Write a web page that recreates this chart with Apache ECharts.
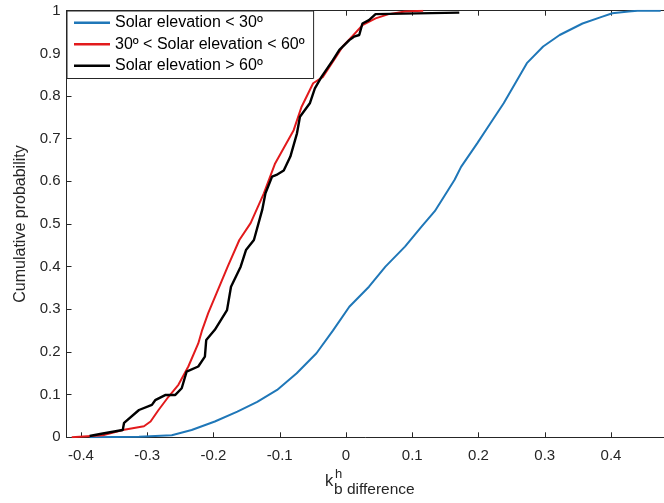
<!DOCTYPE html>
<html>
<head>
<meta charset="utf-8">
<script src="https://cdn.jsdelivr.net/npm/echarts@6/dist/echarts.min.js"></script>
<style>
html,body{margin:0;padding:0;background:#fff;}
#c{width:664px;height:503px;}
</style>
</head>
<body>
<div id="c"></div>
<script>
// ---- data ----
const xTicks = [-0.4, -0.3, -0.2, -0.1, 0, 0.1, 0.2, 0.3, 0.4];
const yTicks = [0, 0.1, 0.2, 0.3, 0.4, 0.5, 0.6, 0.7, 0.8, 0.9, 1];
const seriesNames = ['Solar elevation < 30º', '30º < Solar elevation < 60º', 'Solar elevation > 60º'];

const blueX = [-0.387, -0.3125, -0.263, -0.233, -0.198, -0.164, -0.134, -0.104, -0.0744, -0.0446, -0.0198, 0.005, 0.0347, 0.0595, 0.089, 0.114, 0.134, 0.149, 0.1637, 0.1737, 0.198, 0.218, 0.238, 0.2555, 0.273, 0.2976, 0.3225, 0.357, 0.387, 0.402, 0.4266, 0.44, 0.475];
const blueY = [0, 0.001, 0.005, 0.017, 0.037, 0.06, 0.083, 0.111, 0.15, 0.197, 0.25, 0.306, 0.353, 0.40, 0.447, 0.494, 0.53, 0.567, 0.603, 0.634, 0.689, 0.736, 0.783, 0.83, 0.877, 0.916, 0.943, 0.97, 0.986, 0.994, 0.998, 1.0, 1.0];

const redX = [-0.414, -0.367, -0.337, -0.305, -0.295, -0.283, -0.268, -0.253, -0.238, -0.223, -0.217, -0.208, -0.1786, -0.161, -0.144, -0.124, -0.107, -0.079, -0.067, -0.0496, -0.0347, -0.0149, -0.005, 0.01, 0.0248, 0.0446, 0.0645, 0.089, 0.1165];
const redY = [0, 0.005, 0.017, 0.026, 0.037, 0.064, 0.095, 0.123, 0.166, 0.22, 0.252, 0.291, 0.40, 0.4625, 0.502, 0.572, 0.642, 0.72, 0.775, 0.83, 0.845, 0.892, 0.916, 0.941, 0.966, 0.982, 0.992, 0.998, 1.0];

const blackX = [-0.387, -0.367, -0.337, -0.335, -0.3125, -0.293, -0.288, -0.273, -0.258, -0.248, -0.2406, -0.223, -0.213, -0.211, -0.198, -0.1796, -0.1736, -0.159, -0.151, -0.139, -0.1265, -0.1216, -0.1116, -0.105, -0.094, -0.084, -0.074, -0.0695, -0.0546, -0.047, -0.037, -0.0198, -0.01, 0.005, 0.012, 0.02, 0.0248, 0.0347, 0.0446, 0.047, 0.171];
const blackY = [0.003, 0.009, 0.017, 0.034, 0.064, 0.076, 0.087, 0.099, 0.099, 0.115, 0.154, 0.166, 0.189, 0.228, 0.252, 0.298, 0.353, 0.40, 0.439, 0.4625, 0.533, 0.572, 0.611, 0.615, 0.6255, 0.658, 0.7126, 0.7515, 0.783, 0.818, 0.845, 0.884, 0.908, 0.931, 0.939, 0.943, 0.97, 0.978, 0.992, 0.9955, 0.9955];

const xMin = -0.4219, xMax = 0.48;

function pairs(xs, ys){ return xs.map((x,i)=>[x, ys[i]]); }

const axisColor = '#262626';
const fam = 'Liberation Sans, Arial, sans-serif';
const chart = echarts.init(document.getElementById('c'), null, {renderer:'canvas'});
chart.setOption({
  animation:false,
  backgroundColor:'#fff',
  grid:{left:66.5, top:10.7, width:(xMax - xMin)*672, height:426.6, containLabel:false},
  legend:{
    orient:'vertical', left:67, top:11,
    padding:[1,9,2,7], itemGap:0, itemWidth:36, itemHeight:2.5, icon:'rect',
    textStyle:{fontSize:16, lineHeight:21.5, color:'#000', fontFamily:fam},
    borderColor:axisColor, borderWidth:1, backgroundColor:'#fff',
    data:seriesNames
  },
  xAxis:[{
    type:'value', min:xMin, max:xMax, position:'bottom',
    axisLine:{show:true, onZero:false, lineStyle:{color:axisColor, width:1}},
    axisTick:{show:true, inside:true, length:5, customValues:xTicks, lineStyle:{color:axisColor}},
    axisLabel:{show:true, customValues:xTicks, margin:11, fontSize:15, color:axisColor, fontFamily:fam,
      formatter:v=>String(Math.round(v*10)/10)},
    splitLine:{show:false}
  },{
    type:'value', min:xMin, max:xMax, position:'top',
    axisLine:{show:true, onZero:false, lineStyle:{color:axisColor, width:1}},
    axisTick:{show:true, inside:true, length:5, customValues:xTicks, lineStyle:{color:axisColor}},
    axisLabel:{show:false},
    splitLine:{show:false}
  }],
  yAxis:{
    type:'value', min:0, max:1, interval:0.1, position:'left',
    name:'Cumulative probability', nameLocation:'middle', nameGap:33,
    nameTextStyle:{fontSize:16, color:axisColor, fontFamily:fam},
    axisLine:{show:true, onZero:false, lineStyle:{color:axisColor, width:1}},
    axisTick:{show:true, inside:true, length:5, lineStyle:{color:axisColor}},
    axisLabel:{margin:6, fontSize:15, color:axisColor, fontFamily:fam,
      formatter:v=>String(Math.round(v*10)/10)},
    splitLine:{show:false}
  },
  graphic:[
    {type:'text', x:325, y:481, style:{text:'k', fontSize:16.5, fill:axisColor, verticalAlign:'middle', align:'left', fontFamily:fam}},
    {type:'text', x:335, y:474, style:{text:'h', fontSize:13, fill:axisColor, verticalAlign:'middle', align:'left', fontFamily:fam}},
    {type:'text', x:334, y:489.5, style:{text:'b difference', fontSize:15.5, fill:axisColor, verticalAlign:'middle', align:'left', fontFamily:fam}}
  ],
  series:[
    {name:seriesNames[0], type:'line', data:pairs(blueX, blueY), showSymbol:false, symbol:'none', color:'#1f77b8', lineStyle:{width:2, color:'#1f77b8'}, z:2},
    {name:seriesNames[1], type:'line', data:pairs(redX, redY), showSymbol:false, symbol:'none', color:'#e21a1c', lineStyle:{width:2, color:'#e21a1c'}, z:3},
    {name:seriesNames[2], type:'line', data:pairs(blackX, blackY), showSymbol:false, symbol:'none', color:'#000', lineStyle:{width:2.4, color:'#000'}, z:4}
  ]
});
</script>
</body>
</html>
